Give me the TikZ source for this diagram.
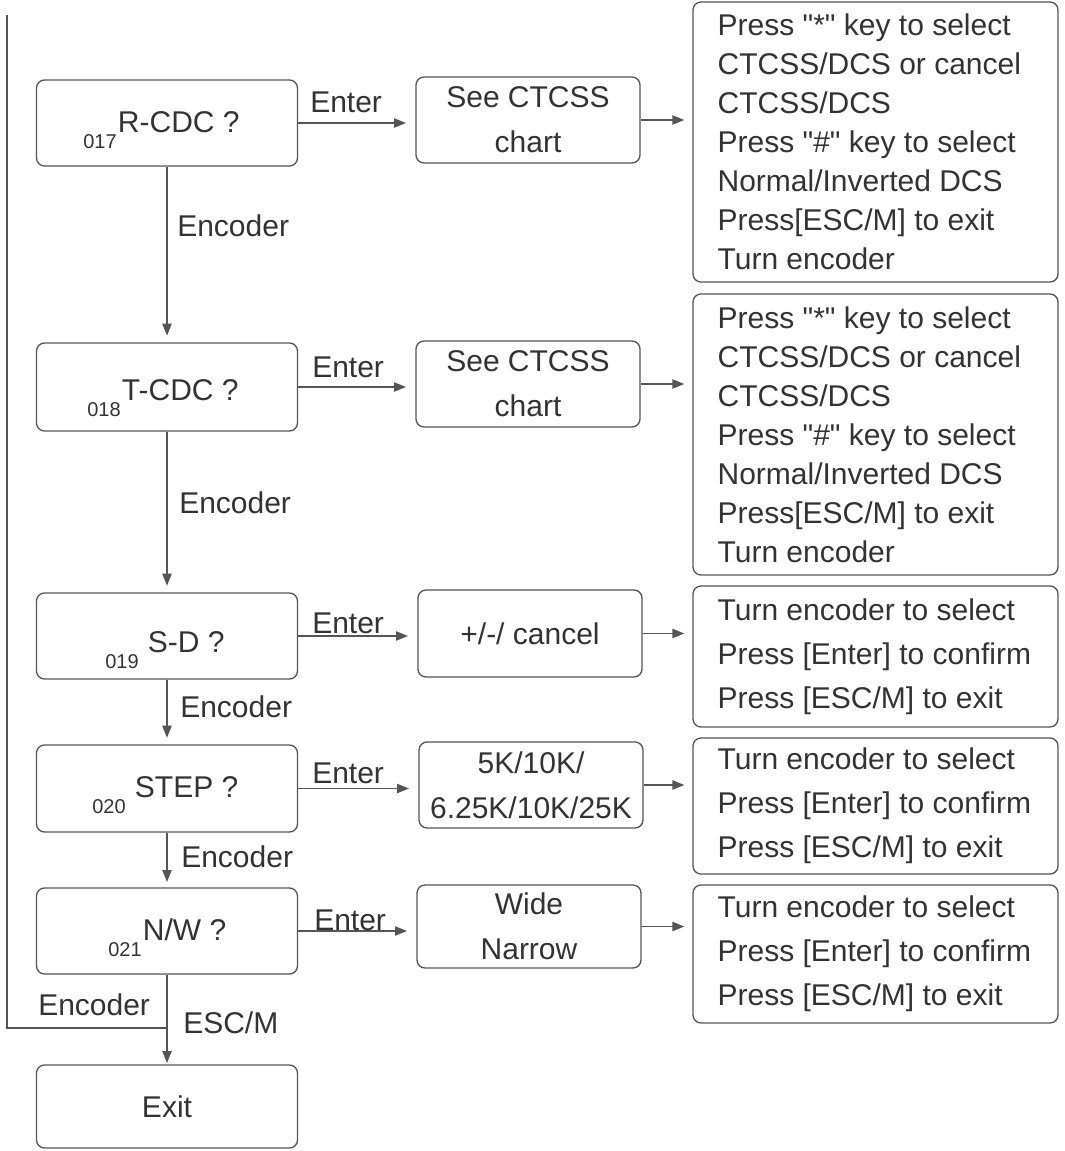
\documentclass[tikz,border=0pt]{standalone}
\usepackage{fontspec}
\setmainfont{Liberation Sans}[Ligatures=TeXOff]
\usetikzlibrary{arrows.meta}
\definecolor{linec}{HTML}{555555}
\definecolor{txtc}{HTML}{333333}
\newcommand{\lowsub}[1]{\lower 12pt\hbox{\fontsize{15pt}{15pt}\selectfont #1}}
\begin{document}
\begin{tikzpicture}[x=0.75pt,y=-0.75pt,
  every node/.style={text=txtc, font=\fontsize{22.5pt}{27pt}\selectfont},
  bx/.style 2 args={draw=linec, line width=1pt, rounded corners=6pt,
    minimum width={#1*0.75pt}, minimum height={#2*0.75pt}, inner sep=0pt},
  lbx/.style={bx={261}{#1}},
  mbx/.style={bx={224}{#1}, align=center, font=\fontsize{22.5pt}{33.75pt}\selectfont},
  rbx/.style={bx={365}{#1}},
  rtxt/.style={anchor=west, inner sep=0pt, align=left, font=\fontsize{22.5pt}{#1}\selectfont},
  arr/.style={draw=linec, line width=1pt, -{Triangle[length=9pt,width=7pt]}},
  ln/.style={draw=linec, line width=1pt},
  lab/.style={anchor=base west, inner sep=0pt}
]
\useasboundingbox[fill=white] (0,0) rectangle (1064,1151);

% left column boxes
\node[lbx=86] (A1) at (167,123) {};
\node[lbx=88] (A2) at (167,387) {};
\node[lbx=86] (A3) at (167,636) {};
\node[lbx=87] (A4) at (167,788.5) {};
\node[lbx=86] (A5) at (167,931) {};
\node[lbx=83] (EX) at (167,1106.5) {Exit};

% left box labels
\node[lab] (t1) at (83,133) {\lowsub{017}\kern1pt R-CDC ?};
\node[lab] (t2) at (87,400) {\lowsub{018}\kern1pt T-CDC ?};
\node[lab] (t3) at (105,652) {\lowsub{019}\kern7pt S-D ?};
\node[lab] (t4) at (92,797) {\lowsub{020}\kern7pt STEP ?};
\node[lab] (t5) at (108,940) {\lowsub{021}\kern1pt N/W ?};

% middle column
\node[mbx=86] (M1) at (528,120) {See CTCSS\\chart};
\node[mbx=86] (M2) at (528,384) {See CTCSS\\chart};
\node[mbx=87] (M3) at (530,633.5) {+/-/ cancel};
\node[mbx=86] (M4) at (531,785) {5K/10K/\\6.25K/10K/25K};
\node[mbx=83] (M5) at (529,926.5) {Wide\\Narrow};

% right column
\node[rbx=280] (R1) at (875.5,142) {};
\node[rbx=281] (R2) at (875.5,434.5) {};
\node[rbx=141] (R3) at (875.5,656.5) {};
\node[rbx=136] (R4) at (875.5,806) {};
\node[rbx=138] (R5) at (875.5,954) {};

\node[rtxt=29.25pt] (R1t) at ([xshift=18.75pt]R1.west) {Press "*" key to select\\CTCSS/DCS or cancel\\CTCSS/DCS\\Press "\#" key to select\\Normal/Inverted DCS\\Press[ESC/M] to exit\\Turn encoder};
\node[rtxt=29.25pt] (R2t) at ([xshift=18.75pt]R2.west) {Press "*" key to select\\CTCSS/DCS or cancel\\CTCSS/DCS\\Press "\#" key to select\\Normal/Inverted DCS\\Press[ESC/M] to exit\\Turn encoder};
\node[rtxt=33pt] (R3t) at ([xshift=18.75pt]R3.west) {Turn encoder to select\\Press [Enter] to confirm\\Press [ESC/M] to exit};
\node[rtxt=33pt] (R4t) at ([xshift=18.75pt]R4.west) {Turn encoder to select\\Press [Enter] to confirm\\Press [ESC/M] to exit};
\node[rtxt=33pt] (R5t) at ([xshift=18.75pt]R5.west) {Turn encoder to select\\Press [Enter] to confirm\\Press [ESC/M] to exit};

% vertical arrows
\draw[arr, shorten >=5pt] (A1.south) -- (A2.north);
\draw[arr, shorten >=5pt] (A2.south) -- (A3.north);
\draw[arr, shorten >=5pt] (A3.south) -- (A4.north);
\draw[arr, shorten >=4pt] (A4.south) -- (A5.north);
\draw[arr, shorten >=1pt] (A5.south) -- (EX.north);

% horizontal arrows left -> middle
\draw[arr, shorten >=7pt] (A1.east) -- (A1.east -| M1.west);
\draw[arr, shorten >=7pt] (A2.east) -- (A2.east -| M2.west);
\draw[arr, shorten >=7pt] (A3.east) -- (A3.east -| M3.west);
\draw[arr, shorten >=7pt] (A4.east) -- (A4.east -| M4.west);
\draw[arr, shorten >=7pt] (A5.east) -- (A5.east -| M5.west);

% middle -> right
\draw[arr, shorten >=6pt] (M1.east) -- (M1.east -| R1.west);
\draw[arr, shorten >=6pt] (M2.east) -- (M2.east -| R2.west);
\draw[arr, shorten >=6pt] (M3.east) -- (M3.east -| R3.west);
\draw[arr, shorten >=6pt] (M4.east) -- (M4.east -| R4.west);
\draw[arr, shorten >=6pt] (M5.east) -- (M5.east -| R5.west);

% loop-back line
\coordinate (ltop) at (7,15);
\coordinate (lbot) at (7,1028);
\draw[ln] (ltop) -- (lbot) -- (lbot -| A5.south);

% labels
\node[lab] (e1) at (177,237) {Encoder};
\node[lab] (e2) at (179,513) {Encoder};
\node[lab] (e3) at (180,717) {Encoder};
\node[lab] (e4) at (181,867) {Encoder};
\node[lab] (e5) at (38,1015) {Encoder};
\node[lab] (esc) at (183,1033) {ESC/M};

\node[lab] (n1) at (310,113) {Enter};
\node[lab] (n2) at (312,378) {Enter};
\node[lab] (n3) at (312,633) {Enter};
\node[lab] (n4) at (312,783) {Enter};
\node[lab] (n5) at (314,930) {Enter};
\end{tikzpicture}
\end{document}
